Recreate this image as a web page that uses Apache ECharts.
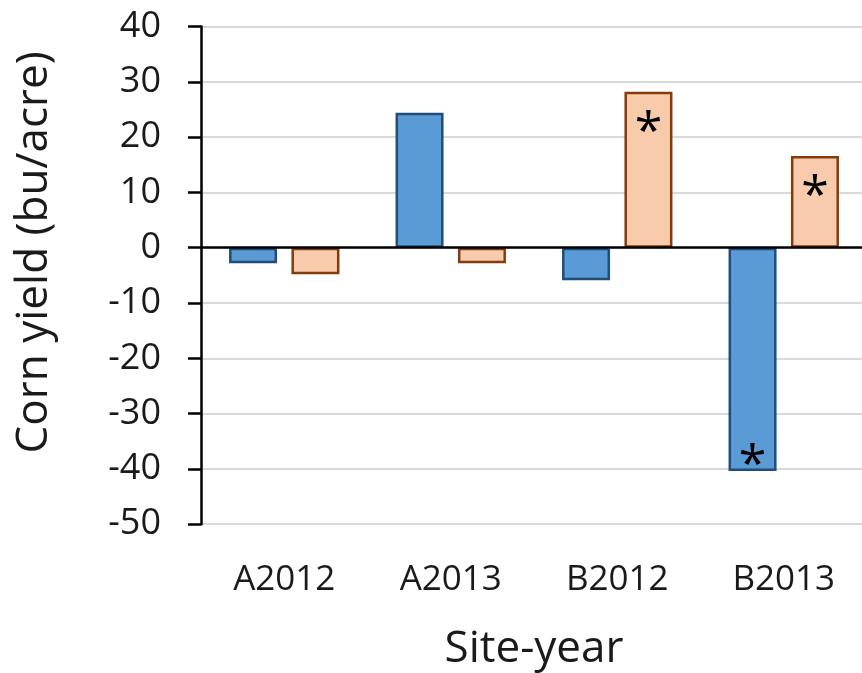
<!DOCTYPE html>
<html>
<head>
<meta charset="utf-8">
<title>Corn yield by site-year</title>
<script src="https://cdn.jsdelivr.net/npm/echarts@6/dist/echarts.min.js"></script>
<style>
  html, body { margin: 0; padding: 0; background: #ffffff; }
  #chart { width: 862px; height: 673px; }
</style>
</head>
<body>
<div id="chart"></div>
<script>
// Site-years along the x axis
const siteYears = ['A2012', 'A2013', 'B2012', 'B2013'];

// Change in corn yield (bu/acre) for the two treatments
const blueValues = [-2.8, 24.4, -5.9, -40.4];
const orangeValues = [-4.8, -2.8, 28.2, 16.6];

// Significant differences, marked with an asterisk inside the bar
const blueSignificant = [false, false, false, true];
const orangeSignificant = [false, false, true, true];

// Y axis range and step
const yMin = -50;
const yMax = 40;
const yStep = 10;

const FONT = 'Open Sans';

// The asterisk glyph sits high in its line box, so nudge it down a little
function withStars(values, flags) {
  return values.map(function (v, i) {
    if (!flags[i]) return { value: v };
    return {
      value: v,
      label: {
        show: true,
        formatter: '*',
        position: v < 0 ? 'insideBottom' : 'insideTop',
        distance: 8,
        offset: [0, v < 0 ? 29 : 9],
        fontFamily: FONT,
        fontSize: 50,
        color: '#000000'
      }
    };
  });
}

const chart = echarts.init(document.getElementById('chart'), null, { renderer: 'canvas' });

chart.setOption({
  backgroundColor: '#ffffff',
  animation: false,
  textStyle: { fontFamily: FONT },
  grid: {
    left: 201,
    top: 26.5,
    width: 666,
    height: 497.7,
    containLabel: false,
    outerBoundsMode: 'none'
  },
  xAxis: {
    type: 'category',
    data: siteYears,
    position: 'bottom',
    axisLine: { show: false, onZero: false },
    axisTick: { show: false },
    splitLine: { show: false },
    axisLabel: {
      margin: 38,
      fontFamily: FONT,
      fontSize: 35,
      color: '#1a1a1a'
    },
    name: 'Site-year',
    nameLocation: 'middle',
    nameGap: 103,
    nameTextStyle: { fontFamily: FONT, fontSize: 44, color: '#1a1a1a' }
  },
  yAxis: {
    type: 'value',
    min: yMin,
    max: yMax,
    interval: yStep,
    axisLine: { show: true, lineStyle: { color: '#000000', width: 2.5 } },
    axisTick: { show: true, inside: false, length: 13, lineStyle: { color: '#000000', width: 2.5 } },
    splitLine: { show: true, lineStyle: { color: '#d9d9d9', width: 2 } },
    axisLabel: {
      margin: 40,
      fontFamily: FONT,
      fontSize: 36,
      color: '#1a1a1a'
    },
    name: 'Corn yield (bu/acre)',
    nameLocation: 'middle',
    nameRotate: 90,
    nameGap: 145,
    nameTextStyle: {
      fontFamily: FONT,
      fontSize: 44,
      color: '#1a1a1a',
      padding: [0, 0, 0, 46]
    }
  },
  series: [
    {
      type: 'bar',
      name: 'Blue',
      data: withStars(blueValues, blueSignificant),
      barWidth: 48,
      barGap: '30%',
      itemStyle: { color: '#5b9bd5', borderColor: '#1f4e79', borderWidth: 2.5 },
      markLine: {
        silent: true,
        symbol: 'none',
        label: { show: false },
        lineStyle: { color: '#000000', width: 2.5, type: 'solid' },
        data: [{ yAxis: 0 }]
      }
    },
    {
      type: 'bar',
      name: 'Orange',
      data: withStars(orangeValues, orangeSignificant),
      barWidth: 48,
      itemStyle: { color: '#f8cbad', borderColor: '#843c0c', borderWidth: 2.5 }
    }
  ]
});
</script>
</body>
</html>
